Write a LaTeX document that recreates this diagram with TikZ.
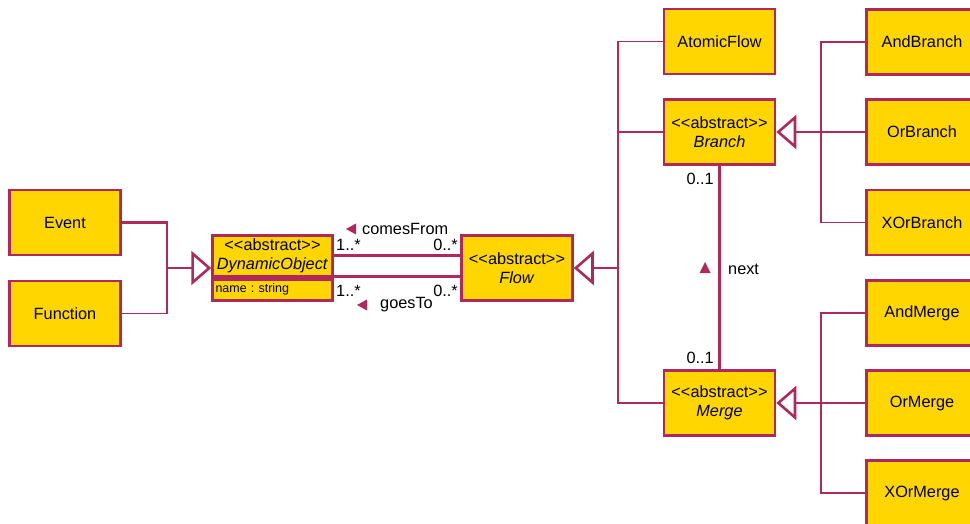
\documentclass[tikz,border=0pt]{standalone}
\usepackage{fontspec}
\setmainfont{Liberation Sans}
\usetikzlibrary{arrows.meta}
\definecolor{umlline}{RGB}{176,40,92}
\definecolor{umlfill}{RGB}{255,214,0}
\begin{document}
\begin{tikzpicture}[x=1pt,y=-1pt,
    box/.style={draw=umlline,line width=2.5pt,fill=umlfill,minimum width=111pt,
      minimum height=65pt,inner sep=0pt,align=center,font=\fontsize{16.3}{18.5}\selectfont},
    attrbox/.style={box,minimum width=120pt,minimum height=21pt,anchor=west,
      text width=114pt,align=left,font=\fontsize{12.5}{14}\selectfont},
    assoc/.style={draw=umlline,line width=3pt},
    gen/.style={draw=umlline,line width=2.6pt},
    genthin/.style={draw=umlline,line width=1.8pt},
    inherit/.style={gen,-{Triangle[open,length=20pt,width=34pt]}},
    lbl/.style={inner sep=0pt,font=\fontsize{16.3}{18.5}\selectfont}]
    \useasboundingbox (0,0) rectangle (970,524);

    % left side
    \node[box] (event) at (65,222.5) {Event};
    \node[box] (func) at (65,313.5) {Function};
    \node[box,minimum width=120pt,minimum height=41pt] (dyn) at (272.5,256)
      {{<}{<}abstract{>}{>}\\\textit{DynamicObject}};
    \node[attrbox] (dynattr) at (dyn.south west) [yshift=-12pt] {name :\ string};
    \node[box] (flow) at (517,268) {{<}{<}abstract{>}{>}\\\textit{Flow}};

    % middle column
    \node[box] (atomic) at (719.5,41.5) {AtomicFlow};
    \node[box] (branch) at (719.5,132) {{<}{<}abstract{>}{>}\\\textit{Branch}};
    \node[box] (merge) at (719.5,403) {{<}{<}abstract{>}{>}\\\textit{Merge}};

    % right column
    \node[box] (andb) at (922,42) {AndBranch};
    \node[box] (orb) at (922,132) {OrBranch};
    \node[box] (xorb) at (922,222.5) {XOrBranch};
    \node[box] (andm) at (922,313) {AndMerge};
    \node[box] (orm) at (922,403) {OrMerge};
    \node[box] (xorm) at (922,493) {XOrMerge};

    \coordinate (J1) at (167,268);
    \coordinate (J2) at (618,268);
    \coordinate (J3) at (821,132);
    \coordinate (J4) at (821,403);

    % generalisations
    \draw[gen] (event.east) -| (J1);
    \draw[genthin] (func.east) -| (J1);
    \draw[inherit] (J1) -- (dyn.west |- J1);

    \draw[genthin] (atomic.west) -| (J2);
    \draw[gen] (branch.west) -| (J2);
    \draw[genthin] (merge.west) -| (J2);
    \draw[inherit] (J2) -- (flow.east);

    \draw[gen] (andb.west) -| (J3);
    \draw[gen] (orb.west) -- (J3);
    \draw[genthin] (xorb.west) -| (J3);
    \draw[inherit] (J3) -- (branch.east);

    \draw[gen] (andm.west) -| (J4);
    \draw[gen] (orm.west) -- (J4);
    \draw[genthin] (xorm.west) -| (J4);
    \draw[inherit] (J4) -- (merge.east);

    % associations
    \draw[assoc] ([yshift=1pt]dyn.east) -- ([yshift=1pt]dyn.east -| flow.west);
    \draw[assoc] ([yshift=2pt]dynattr.north east) -- ([yshift=2pt]dynattr.north east -| flow.west);
    \draw[assoc] (branch.south) -- (merge.north);

    \node[lbl,anchor=west] (m1) at (336,245) {1..*};
    \node[lbl,anchor=east] (m2) at (458,245) {0..*};
    \node[lbl,anchor=west] (m3) at (336,291) {1..*};
    \node[lbl,anchor=east] (m4) at (458,291) {0..*};
    \node[lbl,anchor=east] (m5) at (714,179) {0..1};
    \node[lbl,anchor=east] (m6) at (714,358) {0..1};

    \node[lbl,anchor=west] (comes) at (362,229) {comesFrom};
    \node[lbl,anchor=west] (goes) at (380,305) {goesTo};
    \node[lbl,anchor=west] (next) at (728,269) {next};
    \fill[umlline] (346,229) -- (356,223.5) -- (356,234.5) -- cycle;
    \fill[umlline] (357,305) -- (367,299.5) -- (367,310.5) -- cycle;
    \fill[umlline] (705,262) -- (710.5,273) -- (699.5,273) -- cycle;

\end{tikzpicture}
\end{document}
